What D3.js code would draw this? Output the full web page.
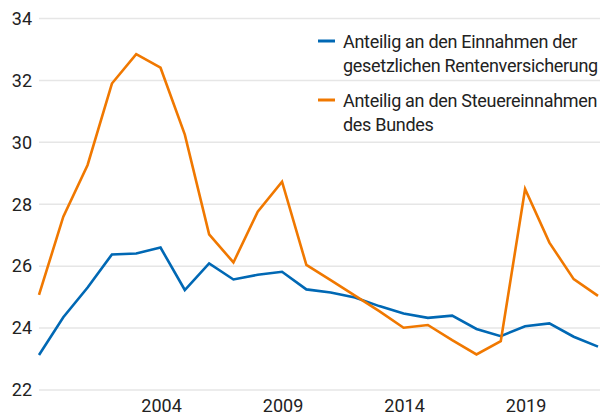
<!DOCTYPE html>
<html>
<head>
<meta charset="utf-8">
<script src="https://cdn.jsdelivr.net/npm/d3@7"></script>
<style>
  body { margin: 0; background: #fff; }
  text { font-family: Roboto, "Noto Sans", sans-serif; fill: #222; }
</style>
</head>
<body>
<div id="chart"></div>
<script>
var years = [1999, 2000, 2001, 2002, 2003, 2004, 2005, 2006, 2007, 2008, 2009, 2010,
  2011, 2012, 2013, 2014, 2015, 2016, 2017, 2018, 2019, 2020, 2021, 2022];

// Anteil an den Einnahmen der gesetzlichen Rentenversicherung
var rentenValues = [23.13, 24.35, 25.31, 26.38, 26.41, 26.6, 25.23, 26.09, 25.57, 25.72, 25.82, 25.25,
  25.15, 24.99, 24.71, 24.47, 24.33, 24.4, 23.97, 23.74, 24.06, 24.15, 23.72, 23.4];

// Anteil an den Steuereinnahmen des Bundes
var steuerValues = [25.07, 27.6, 29.27, 31.9, 32.85, 32.41, 30.25, 27.03, 26.12, 27.76, 28.73, 26.04,
  25.55, 25.05, 24.55, 24.01, 24.1, 23.61, 23.15, 23.58, 28.49, 26.76, 25.58, 25.04];

var yTicks = [22, 24, 26, 28, 30, 32, 34];
var xTicks = [2004, 2009, 2014, 2019];

var series = [
  {lines: ['Anteilig an den Einnahmen der', 'gesetzlichen Rentenversicherung'], values: rentenValues, color: '#0068b4'},
  {lines: ['Anteilig an den Steuereinnahmen', 'des Bundes'], values: steuerValues, color: '#f07800'}
];

var width = 614, height = 415;

var svg = d3.select('#chart').append('svg')
  .attr('width', width)
  .attr('height', height);

var x = d3.scaleLinear().domain([1999, 2022]).range([39, 598]);
var y = d3.scaleLinear().domain([22, 34]).range([390, 18.5]);

// gridlines
svg.append('g').selectAll('line').data(yTicks).enter()
  .append('line')
    .attr('x1', 39)
    .attr('x2', 600)
    .attr('y1', function(d) {return y(d);})
    .attr('y2', function(d) {return y(d);})
    .style('stroke', '#e6e6e6')
    .style('stroke-width', '1.5px');

// y labels
svg.append('g').selectAll('text').data(yTicks).enter()
  .append('text')
    .text(function(d) {return d;})
    .attr('x', 32)
    .attr('y', function(d) {return y(d);})
    .attr('dy', '0.35em')
    .style('text-anchor', 'end')
    .style('font-size', '18px');

// x labels
svg.append('g').selectAll('text').data(xTicks).enter()
  .append('text')
    .text(function(d) {return d;})
    .attr('x', function(d) {return x(d) + 1;})
    .attr('y', 412)
    .style('text-anchor', 'middle')
    .style('font-size', '18px');

var line = d3.line()
  .x(function(d, i) {return x(years[i]);})
  .y(function(d) {return y(d);});

series.forEach(function(s) {
  svg.append('path')
    .datum(s.values)
    .attr('d', line)
    .style('fill', 'none')
    .style('stroke', s.color)
    .style('stroke-width', '2.6px')
    .style('stroke-linejoin', 'miter');
});

// legend
var legend = svg.append('g').attr('transform', 'translate(318,0)');
var legendTops = [41, 100];
series.forEach(function(s, i) {
  var g = legend.append('g').attr('transform', 'translate(0,' + legendTops[i] + ')');
  g.append('line')
    .attr('x1', 0).attr('x2', 17)
    .attr('y1', 0).attr('y2', 0)
    .style('stroke', s.color)
    .style('stroke-width', '3px');
  s.lines.forEach(function(t, j) {
    g.append('text')
      .text(t)
      .attr('x', 25)
      .attr('y', 7 + j * 23.5)
      .style('font-size', '18px')
      .style('letter-spacing', '-0.3px');
  });
});
</script>
</body>
</html>
